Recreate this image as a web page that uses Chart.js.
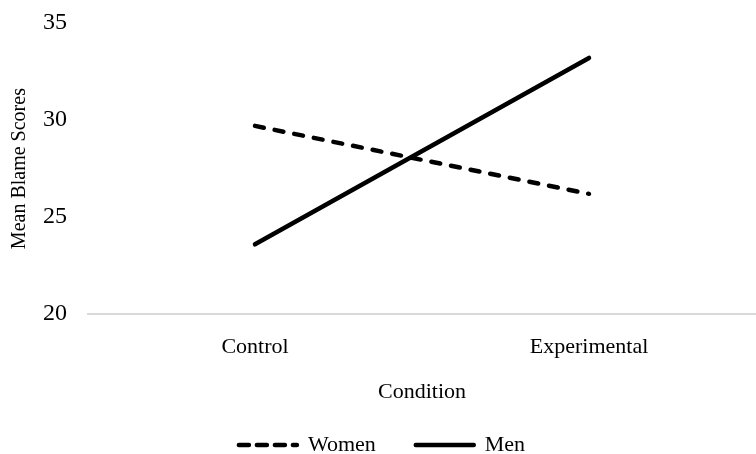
<!doctype html>
<html>

<head>
	<title>Mean Blame Scores</title>
	<script src="https://cdn.jsdelivr.net/npm/chart.js@4/dist/chart.umd.min.js"></script>
	<style>
		html, body {
			margin: 0;
			padding: 0;
			background: #fff;
		}
	</style>
</head>

<body>
	<div style="width:756px;height:454px">
		<canvas id="canvas"></canvas>
	</div>
	<script>
		var conditions = ['Control', 'Experimental'];
		var women = [29.7, 26.2];
		var men = [23.6, 33.2];
		var yTicks = [20, 25, 30, 35];

		var serif = "'Liberation Serif', 'Times New Roman', serif";

		var config = {
			type: 'line',
			data: {
				labels: conditions,
				datasets: [{
					label: 'Women',
					data: women,
					borderColor: '#000',
					backgroundColor: '#000',
					borderWidth: 4.5,
					borderDash: [9, 11],
					borderCapStyle: 'round',
					pointRadius: 0,
					fill: false
				}, {
					label: 'Men',
					data: men,
					borderColor: '#000',
					backgroundColor: '#000',
					borderWidth: 4.5,
					borderCapStyle: 'round',
					pointRadius: 0,
					fill: false
				}]
			},
			options: {
				responsive: true,
				maintainAspectRatio: false,
				animation: false,
				layout: {
					padding: { left: 8, right: 0, top: 0, bottom: -12 }
				},
				plugins: {
					tooltip: { enabled: false },
					legend: {
						position: 'bottom',
						labels: {
							usePointStyle: true,
							pointStyle: 'line',
							pointStyleWidth: 58,
							boxHeight: 22,
							padding: 40,
							color: '#000',
							font: { family: serif, size: 22 },
							generateLabels: function(chart) {
								var items = Chart.defaults.plugins.legend.labels.generateLabels(chart);
								items.forEach(function(item) {
									var ds = chart.data.datasets[item.datasetIndex];
									item.lineDash = ds.borderDash ? [10, 8] : [];
									item.lineWidth = ds.borderWidth;
									item.lineCap = 'round';
									item.strokeStyle = ds.borderColor;
								});
								return items;
							}
						}
					}
				},
				scales: {
					x: {
						offset: true,
						grid: { display: false },
						border: { display: true, color: '#d9d9d9', width: 2 },
						ticks: {
							color: '#000',
							padding: 12,
							font: { family: serif, size: 22 }
						},
						title: {
							display: true,
							text: 'Condition',
							color: '#000',
							padding: { top: 6, bottom: -11 },
							font: { family: serif, size: 22 }
						}
					},
					y: {
						min: 20,
						max: 35,
						afterBuildTicks: function(axis) {
							axis.ticks = yTicks.map(function(v) { return { value: v }; });
						},
						afterFit: function(axis) {
							axis.width = 80;
							axis.paddingTop = 23;
							axis.paddingBottom = 0;
						},
						grid: { display: false, drawTicks: false },
						border: { display: false },
						ticks: {
							color: '#000',
							padding: 21,
							font: { family: serif, size: 24 }
						},
						title: {
							display: true,
							text: 'Mean Blame Scores',
							color: '#000',
							padding: { top: 0, bottom: 0 },
							font: { family: serif, size: 20 }
						}
					}
				}
			}
		};

		window.onload = function() {
			window.myLine = new Chart(document.getElementById('canvas'), config);
		};
	</script>
</body>

</html>
